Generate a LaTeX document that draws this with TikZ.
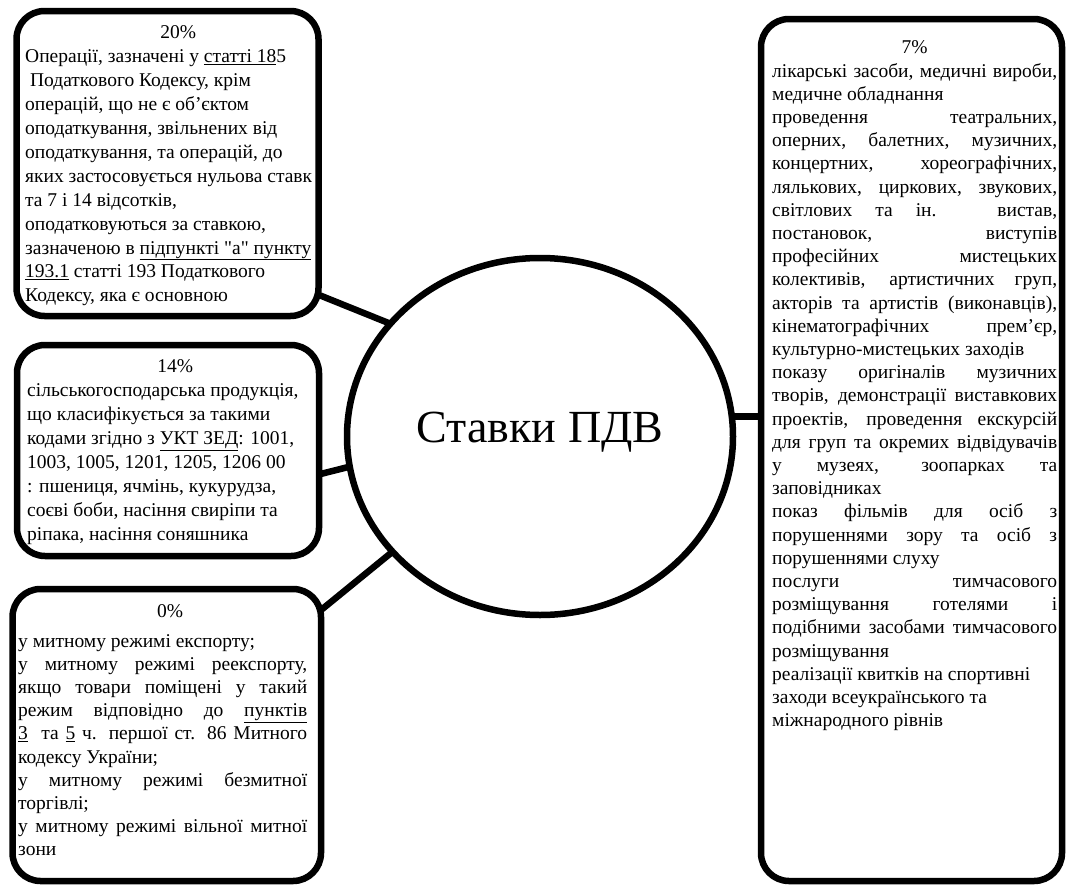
\documentclass[tikz,border=0pt]{standalone}
\usepackage{fontspec}
\setmainfont{Liberation Serif}[Ligatures=TeXOff]
\usetikzlibrary{shapes.geometric}
\newcommand{\jl}[1]{\makebox[\linewidth][s]{#1}}
\newcommand{\midl}[1]{\makebox[\linewidth]{#1}}
\newcommand{\wordgap}{\spaceskip=0pt\xspaceskip=0pt\relax}

\begin{document}
\begin{tikzpicture}[x=1pt, y=-1pt,
         ratebox/.style  = {draw, line width=6.5pt, rounded corners=28pt,
                            outer sep=0pt, inner sep=0pt, anchor=north west},
         ratetext/.style = {inner sep=0pt, align=left, anchor=north west,
                            font=\fontsize{19.5}{#1}\selectfont},
         ratetext/.default = 23.5,
         core/.style     = {draw, ellipse, line width=6.5pt, outer sep=0pt,
                            inner sep=0pt, minimum width=386pt, minimum height=357pt,
                            text height=30pt, text depth=19pt,
                            font=\fontsize{46}{50}\selectfont},
         link/.style     = {line width=6.5pt}]

   \useasboundingbox (0,0) rectangle (1066,886);

   % centre
   \node[core] (vat) at (540,436.5) {Ставки ПДВ};

   % rate boxes
   \node[ratebox, minimum width=302pt, minimum height=305pt] (b20) at (16.5,11) {};
   \node[ratebox, minimum width=302pt, minimum height=211pt] (b14) at (17,345) {};
   \node[ratebox, minimum width=308.5pt, minimum height=292pt] (b0) at (12.5,589) {};
   \node[ratebox, minimum width=301pt, minimum height=862pt] (b7) at (761,19) {};

   % 20%
   \node[ratetext=23.9, text width=306pt] (t20) at (25,22) {\wordgap
      \midl{\strut 20\%}\\
      Операції, зазначені у \underline{статті 18}5\\
      \ Податкового Кодексу, крім\\
      операцій, що не є об’єктом\\
      оподаткування, звільнених від\\
      оподаткування, та операцій, до\\
      яких застосовується нульова ставк\\
      та 7 і 14 відсотків,\\
      оподатковуються за ставкою,\\
      зазначеною в \underline{підпункті "а" пункту}\\
      \underline{193.1} статті 193 Податкового\\
      Кодексу, яка є основною};

   % 14%
   \node[ratetext=23.9, text width=296pt] (t14) at (27,356) {\wordgap
      \midl{\strut 14\%}\\
      сільськогосподарська продукція,\\
      що класифікується за такими\\
      кодами згідно з \underline{УКТ ЗЕД}: 1001,\\
      1003, 1005, 1201, 1205, 1206 00\\
      : пшениця, ячмінь, кукурудза,\\
      соєві боби, насіння свиріпи та\\
      ріпака, насіння соняшника};

   % 0%
   \node[ratetext=23.2, text width=289pt] (t0) at (18,601.5) {\wordgap
      \midl{\strut\hspace{15pt}0\%}\\[6pt]
      у митному режимі експорту;\\
      \jl{у митному режимі реекспорту,}\\
      \jl{якщо товари поміщені у такий}\\
      \jl{режим відповідно до \underline{пунктів}}\\
      \jl{\underline{3}\ \ та \underline{5} ч. першої ст. 86 Митного}\\
      кодексу України;\\
      \jl{у митному режимі безмитної}\\
      торгівлі;\\
      \jl{у митному режимі вільної митної}\\
      зони};

   % 7%
   \node[ratetext=23.2, text width=285pt] (t7) at (772,37.5) {\wordgap
      \midl{\strut 7\%}\\
      \jl{лікарські засоби, медичні вироби,}\\
      медичне обладнання\\
      \jl{проведення театральних,}\\
      \jl{оперних, балетних, музичних,}\\
      \jl{концертних, хореографічних,}\\
      \jl{лялькових, циркових, звукових,}\\
      \jl{світлових та ін. вистав,}\\
      \jl{постановок, виступів}\\
      \jl{професійних мистецьких}\\
      \jl{колективів, артистичних груп,}\\
      \jl{акторів та артистів (виконавців),}\\
      \jl{кінематографічних прем’єр,}\\
      культурно-мистецьких заходів\\
      \jl{показу оригіналів музичних}\\
      \jl{творів, демонстрації виставкових}\\
      \jl{проектів, проведення екскурсій}\\
      \jl{для груп та окремих відвідувачів}\\
      \jl{у музеях, зоопарках та}\\
      заповідниках\\
      \jl{показ фільмів для осіб з}\\
      \jl{порушеннями зору та осіб з}\\
      порушеннями слуху\\
      \jl{послуги тимчасового}\\
      \jl{розміщування готелями і}\\
      \jl{подібними засобами тимчасового}\\
      розміщування\\
      реалізації квитків на спортивні\\
      заходи всеукраїнського та\\
      міжнародного рівнів};

   % connectors
   \draw[link] (b20.-41.7) -- (vat.143.9);
   \draw[link] (b14.-9.95) -- (vat.189.8);
   \draw[link] (b0.39.5) -- (vat.218.2);
   \draw[link] (vat.6.4) -- (vat.6.4 -| b7.west);

\end{tikzpicture}
\end{document}
